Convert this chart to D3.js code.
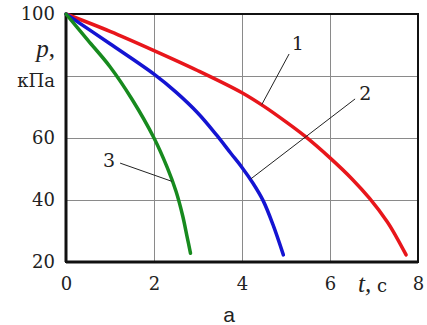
<!DOCTYPE html>
<html>
<head>
<meta charset="utf-8">
<script src="https://cdn.jsdelivr.net/npm/d3@7"></script>
<style>
  body { margin: 0; background: #fff; }
  svg text { fill: #222; }
  .grid line { stroke: #8a8a8a; stroke-width: 1; }
  .curve { fill: none; stroke-width: 3.5; stroke-linecap: round; stroke-linejoin: round; }
</style>
</head>
<body>
<svg id="chart"></svg>
<script>
// curve 1 (red), curve 2 (blue), curve 3 (green): [t, p]
var curve1 = [[0,100],[1,94.4],[2,88.2],[3,81.7],[4,74.6],[4.5,70.2],[5,65.2],[5.43,60.6],[6,53.6],[6.5,46.8],[6.9,40.5],[7.3,33],[7.5,28.3],[7.73,22.3]];
var curve2 = [[0,100],[1,90.4],[2,80.6],[2.5,74.8],[3,68],[3.42,61],[3.75,55],[4,50.5],[4.25,45.4],[4.48,39.8],[4.7,32.2],[4.94,22.3]];
var curve3 = [[0,100],[0.5,91.5],[1,83],[1.5,72.5],[2,60],[2.3,50.5],[2.5,42.8],[2.65,35],[2.75,28.3],[2.83,22.8]];

var xTicks = [0, 2, 4, 6, 8];
var yTicks = [20, 40, 60, 80, 100];
var yTickLabels = ["20", "40", "60", "", "100"];

// leader lines: label text, label position, line start, line end on curve
var callouts = [
  {label: "1", lt: 5.27, lp: 88.4, t0: 5.07, p0: 87.1, t1: 4.45, p1: 70.8},
  {label: "2", lt: 6.8,  lp: 72.3, t0: 6.57, p0: 72.6, t1: 4.2,  p1: 46.8},
  {label: "3", lt: 0.98, lp: 50.6, t0: 1.23, p0: 51.9, t1: 2.41, p1: 46}
];

var W = 427, H = 325;
var margin = {top: 14, right: 9, bottom: 63, left: 66};
var width = W - margin.left - margin.right;
var height = H - margin.top - margin.bottom;
// digits and Cyrillic need DejaVu Serif here; Latin italics use Liberation Serif
var serif = "'DejaVu Serif', serif";
var times = "'Liberation Serif', 'Times New Roman', serif";

var svg = d3.select("#chart")
    .attr("width", W)
    .attr("height", H)
  .append("g")
    .attr("transform", "translate(" + margin.left + "," + margin.top + ")");

var x = d3.scaleLinear().domain([0, 8]).range([0, width]);
var y = d3.scaleLinear().domain([20, 100]).range([height, 0]);

// grid + tick labels
var yAxis = svg.append("g")
    .attr("class", "grid")
    .call(d3.axisLeft(y).tickValues(yTicks).tickSize(-width).tickPadding(11)
      .tickFormat(function(d, i) { return yTickLabels[i]; }));

var xAxis = svg.append("g")
    .attr("class", "grid")
    .attr("transform", "translate(0," + height + ")")
    .call(d3.axisBottom(x).tickValues(xTicks).tickSize(-height).tickPadding(15));

svg.selectAll(".grid").attr("font-family", serif).attr("font-size", 18);
svg.selectAll(".grid .domain").remove();
svg.selectAll(".grid text").attr("fill", "#222");
yAxis.selectAll("text").attr("dy", "0.28em");

// frame
svg.append("rect")
    .attr("width", width).attr("height", height)
    .attr("fill", "none").attr("stroke", "#111").attr("stroke-width", 2);
svg.append("line")
    .attr("x1", 0).attr("x2", 0).attr("y1", 0).attr("y2", height)
    .attr("stroke", "#111").attr("stroke-width", 3);
svg.append("line")
    .attr("x1", 0).attr("x2", width).attr("y1", height).attr("y2", height)
    .attr("stroke", "#111").attr("stroke-width", 3);

var line = d3.line()
    .x(function(d) { return x(d[0]); })
    .y(function(d) { return y(d[1]); })
    .curve(d3.curveCatmullRom.alpha(0.5));

svg.append("path").datum(curve1).attr("class", "curve").attr("stroke", "#e8161b").attr("d", line);
svg.append("path").datum(curve2).attr("class", "curve").attr("stroke", "#1414d2").attr("d", line);
svg.append("path").datum(curve3).attr("class", "curve").attr("stroke", "#178a1e").attr("d", line);

// callouts
svg.selectAll(".leader")
    .data(callouts)
    .enter().append("line")
    .attr("class", "leader")
    .attr("x1", function(d) { return x(d.t0); })
    .attr("y1", function(d) { return y(d.p0); })
    .attr("x2", function(d) { return x(d.t1); })
    .attr("y2", function(d) { return y(d.p1); })
    .attr("stroke", "#222").attr("stroke-width", 1);

svg.selectAll(".clabel")
    .data(callouts)
    .enter().append("text")
    .attr("class", "clabel")
    .attr("x", function(d) { return x(d.lt); })
    .attr("y", function(d) { return y(d.lp); })
    .attr("text-anchor", "middle")
    .attr("font-family", serif)
    .attr("font-size", 19)
    .text(function(d) { return d.label; });

// axis titles
var pLabel = svg.append("text")
    .attr("x", -11).attr("y", 43)
    .attr("text-anchor", "end")
    .attr("font-family", times)
    .attr("font-size", 25);
pLabel.append("tspan").attr("font-style", "italic").text("p");
pLabel.append("tspan").text(",");

svg.append("text")
    .attr("x", -11).attr("y", 73)
    .attr("text-anchor", "end")
    .attr("font-family", serif)
    .attr("font-size", 18)
    .text("кПа");

var tLabel = svg.append("text")
    .attr("x", 292).attr("y", height + 30)
    .attr("text-anchor", "start");
tLabel.append("tspan").attr("font-family", times).attr("font-style", "italic")
    .attr("font-size", 25).text("t,");
tLabel.append("tspan").attr("font-family", serif).attr("font-size", 18).text(" с");

svg.append("text")
    .attr("x", 163).attr("y", H - margin.top - 3)
    .attr("text-anchor", "middle")
    .attr("font-family", "'Liberation Sans', Arial, sans-serif")
    .attr("font-size", 21)
    .text("а");
</script>
</body>
</html>
